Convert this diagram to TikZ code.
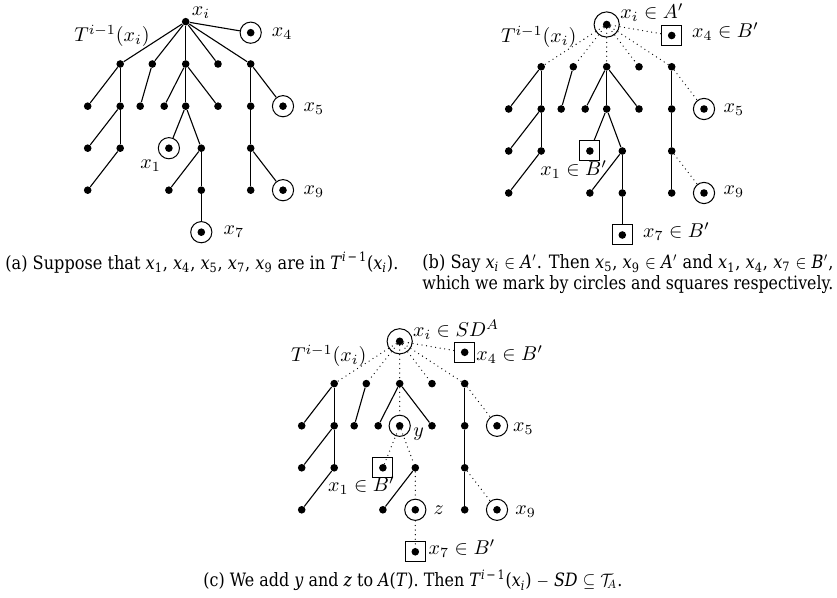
\documentclass[tikz,border=0pt]{standalone}
\usepackage{graphicx}
\usepackage{fontspec}
\newfontfamily\capfont{DejaVu Serif}
\newcommand\cv[2]{\textit{#1}\textsubscript{#2}}
\newcommand\mytreenodes{%
  \node[dot] (r) at (0,0) {};
  \node[mkfour] (x4) at (65,11) {};
  \node[dot] (a1) at (-65.5,42.3) {};
  \node[dot] (a2) at (-33.4,42.3) {};
  \node[dot] (a3) at (0,42.3) {};
  \node[dot] (a4) at (32.3,42.3) {};
  \node[dot] (a5) at (65,42.3) {};
  \node[dot] (b1) at (-98,84.5) {};
  \node[dot] (b2) at (-65.5,84.5) {};
  \node[dot] (b3) at (-45.5,84.5) {};
  \node[dot] (b4) at (-21.5,84.5) {};
  \node[dot] (b5) at (0,84.5) {};
  \node[dot] (b6) at (32.3,84.5) {};
  \node[dot] (b7) at (65,84.5) {};
  \node[mkfive] (x5) at (97.3,84.5) {};
  \node[dot] (c1) at (-98,126.5) {};
  \node[dot] (c2) at (-65.5,126.5) {};
  \node[mkone] (x1) at (-16.8,126.5) {};
  \node[dot] (c4) at (15.6,126.5) {};
  \node[dot] (c5) at (65,126.5) {};
  \node[dot] (d1) at (-98,168.5) {};
  \node[dot] (d2) at (-16.8,168.5) {};
  \node[mkz] (d3) at (15.6,168.5) {};
  \node[dot] (d4) at (65,168.5) {};
  \node[mkfive] (x9) at (97.3,168.5) {};
  \node[mkone] (x7) at (15.6,210.5) {};
}
\begin{document}
\begin{tikzpicture}[x=0.5pt,y=-0.5pt,
  dot/.style={circle,fill,inner sep=0pt,minimum size=3.8pt},
  ring/.style={circle,draw,line width=0.5pt,inner sep=0pt,minimum size=10.6pt,
    path picture={\fill (path picture bounding box.center) circle (1.9pt);}},
  bigring/.style={circle,draw,line width=0.5pt,inner sep=0pt,minimum size=12.6pt},
  plainring/.style={circle,draw,line width=0.5pt,inner sep=0pt,minimum size=10.6pt},
  sqr/.style={rectangle,draw,line width=0.5pt,inner sep=0pt,minimum size=10pt,
    path picture={\fill (path picture bounding box.center) circle (1.9pt);}},
  sl/.style={line width=0.55pt},
  dl/.style={line width=0.65pt,line cap=round,dash pattern=on 0pt off 2.3pt},
  lab/.style={inner sep=0pt,font=\fontsize{10.4}{12}\selectfont},
  captxt/.style={inner sep=0pt,font=\capfont\fontsize{9.2}{11}\selectfont}]
\useasboundingbox (0,0) rectangle (837,598);

% ---------------- panel (a)
\begin{scope}[shift={(185.7,21.7)},name prefix=a-,
  mkfour/.style=ring,mkfive/.style=ring,mkone/.style=ring,mkz/.style=dot]
  \mytreenodes
  \foreach \t in {a1,a2,a3,a4,a5,x4} \draw[sl] (r) -- (\t);
  \draw[sl] (a1) -- (b1); \draw[sl] (a1) -- (b2);
  \draw[sl] (b2) -- (c1); \draw[sl] (b2) -- (c2);
  \draw[sl] (c2) -- (d1);
  \draw[sl] (a2) -- (b3);
  \draw[sl] (a3) -- (b4); \draw[sl] (a3) -- (b5); \draw[sl] (a3) -- (b6);
  \draw[sl] (b5) -- (x1); \draw[sl] (b5) -- (c4);
  \draw[sl] (c4) -- (d2); \draw[sl] (c4) -- (d3);
  \draw[sl] (d3) -- (x7);
  \draw[sl] (a5) -- (b7); \draw[sl] (a5) -- (x5);
  \draw[sl] (b7) -- (c5);
  \draw[sl] (c5) -- (d4); \draw[sl] (c5) -- (x9);
\end{scope}
\node[lab,anchor=base west] (la-xi) at (191.5,16) {$x_i$};
\node[lab,anchor=base east] (la-T) at (150,42) {$T^{i-1}(x_i)$};
\node[lab,anchor=base west] (la-x4) at (271.5,37) {$x_4$};
\node[lab,anchor=base west] (la-x5) at (303.3,111.7) {$x_5$};
\node[lab,anchor=base west] (la-x1) at (140,168.3) {$x_1$};
\node[lab,anchor=base west] (la-x9) at (303.3,195) {$x_9$};
\node[lab,anchor=base west] (la-x7) at (223.3,235) {$x_7$};

% ---------------- panel (b)
\begin{scope}[shift={(606.7,24.5)},name prefix=b-,
  mkfour/.style=sqr,mkfive/.style=ring,mkone/.style=sqr,mkz/.style=dot]
  \mytreenodes
  \node[bigring] (rr) at (r) {};
  \foreach \t in {a1,a2,a3,a4,a5,x4} \draw[dl] (r) -- (\t);
  \draw[sl] (a1) -- (b1); \draw[sl] (a1) -- (b2);
  \draw[sl] (b2) -- (c1); \draw[sl] (b2) -- (c2);
  \draw[sl] (c2) -- (d1);
  \draw[sl] (a2) -- (b3);
  \draw[sl] (a3) -- (b4); \draw[sl] (a3) -- (b5); \draw[sl] (a3) -- (b6);
  \draw[sl] (b5) -- (x1); \draw[sl] (b5) -- (c4);
  \draw[sl] (c4) -- (d2); \draw[sl] (c4) -- (d3);
  \draw[sl] (d3) -- (x7);
  \draw[sl] (a5) -- (b7); \draw[dl] (a5) -- (x5);
  \draw[sl] (b7) -- (c5);
  \draw[sl] (c5) -- (d4); \draw[dl] (c5) -- (x9);
\end{scope}
\node[lab,anchor=base west] (lb-xi) at (620,18.3) {$x_i\in A'$};
\node[lab,anchor=base east] (lb-T) at (576.7,42.5) {$T^{i-1}(x_i)$};
\node[lab,anchor=base west] (lb-x4) at (691.7,37.3) {$x_4\in B'$};
\node[lab,anchor=base west] (lb-x5) at (723.3,112.3) {$x_5$};
\node[lab,anchor=base west] (lb-x1) at (540,175.7) {$x_1\in B'$};
\node[lab,anchor=base west] (lb-x9) at (723.3,195) {$x_9$};
\node[lab,anchor=base west] (lb-x7) at (642.7,237.3) {$x_7\in B'$};

% ---------------- panel (c)
\begin{scope}[shift={(399.7,341.3)},name prefix=c-,
  mkfour/.style=sqr,mkfive/.style=ring,mkone/.style=sqr,mkz/.style=ring]
  \mytreenodes
  \node[bigring] (rr) at (r) {};
  \node[plainring] (yr) at (b5) {};
  \foreach \t in {a1,a2,a3,a4,a5,x4} \draw[dl] (r) -- (\t);
  \draw[sl] (a1) -- (b1); \draw[sl] (a1) -- (b2);
  \draw[sl] (b2) -- (c1); \draw[sl] (b2) -- (c2);
  \draw[sl] (c2) -- (d1);
  \draw[sl] (a2) -- (b3);
  \draw[sl] (a3) -- (b4); \draw[dl] (a3) -- (yr); \draw[sl] (a3) -- (b6);
  \draw[dl] (b5) -- (x1.center); \draw[dl] (b5) -- (c4);
  \draw[sl] (c4) -- (d2); \draw[dl] (c4) -- (d3);
  \draw[dl] (d3) -- (x7.center);
  \draw[sl] (a5) -- (b7); \draw[dl] (a5) -- (x5);
  \draw[sl] (b7) -- (c5);
  \draw[sl] (c5) -- (d4); \draw[dl] (c5) -- (x9);
\end{scope}
\node[lab,anchor=base west] (lc-xi) at (412.7,336.7) {$x_i\in SD^A$};
\node[lab,anchor=base east] (lc-T) at (366.7,361.7) {$T^{i-1}(x_i)$};
\node[lab,anchor=base west] (lc-x4) at (476,360.7) {$x_4\in B'$};
\node[lab,anchor=base west] (lc-y) at (413,436.7) {$y$};
\node[lab,anchor=base west] (lc-x5) at (512.7,431.7) {$x_5$};
\node[lab,anchor=base west] (lc-x1) at (327.7,491.7) {$x_1\in B'$};
\node[lab,anchor=base west] (lc-z) at (433.3,515) {$z$};
\node[lab,anchor=base west] (lc-x9) at (515,514.3) {$x_9$};
\node[lab,anchor=base west] (lc-x7) at (428.3,555) {$x_7\in B'$};

% ---------------- captions
\node[captxt,anchor=base west] (capa) at (5,269.3)
  {\resizebox{196.5pt}{\height}{(a) Suppose that \cv{x}{1}, \cv{x}{4}, \cv{x}{5}, \cv{x}{7}, \cv{x}{9} are in \textit{T}\textsuperscript{\textit{i}\,−\,1}(\cv{x}{\textit{i}}).}};
\node[captxt,anchor=base west] (capb1) at (422,268.7)
  {\resizebox{205.5pt}{\height}{(b) Say \cv{x}{\textit{i}} $\in$ \textit{A}$'$. Then \cv{x}{5}, \cv{x}{9} $\in$ \textit{A}$'$ and \cv{x}{1}, \cv{x}{4}, \cv{x}{7} $\in$ \textit{B}$'$,}};
\node[captxt,anchor=base west] (capb2) at (422,289.3)
  {\resizebox{205.5pt}{\height}{which we mark by circles and squares respectively.}};
\node[captxt,anchor=base west] (capc) at (203,587)
  {\resizebox{209.5pt}{\height}{(c) We add \textit{y} and \textit{z} to \textit{A}(\textit{T}). Then \textit{T}\textsuperscript{\textit{i}\,−\,1}(\cv{x}{\textit{i}}) $-$ \textit{SD} $\subseteq$ $\mathcal{T}_{\!A}$.}};
\end{tikzpicture}
\end{document}
